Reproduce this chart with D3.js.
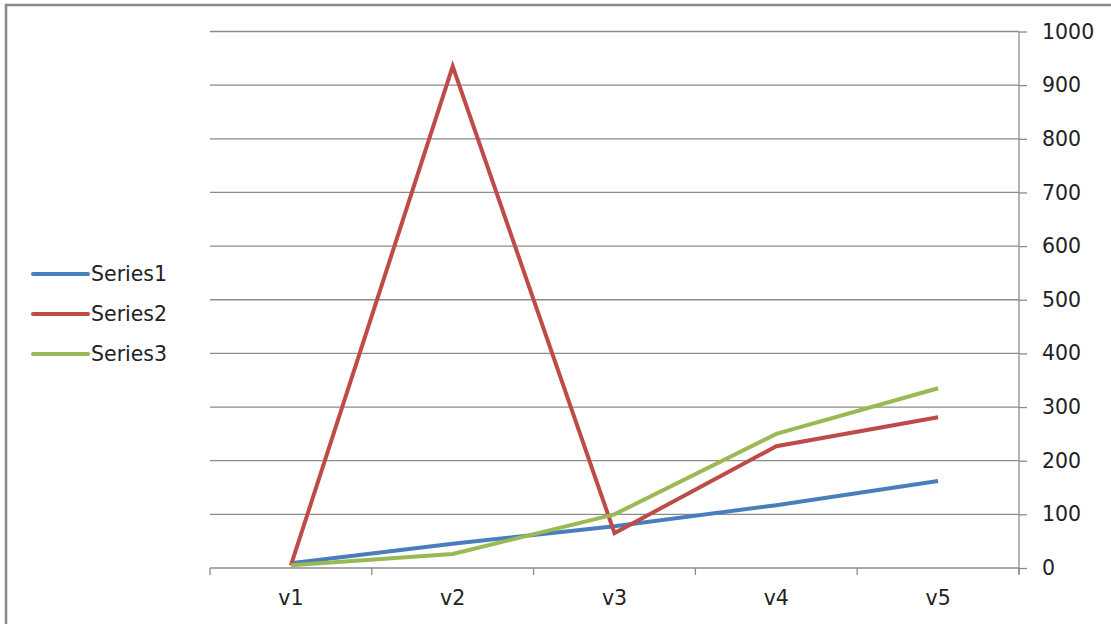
<!DOCTYPE html>
<html><head><meta charset="utf-8">
<script src="https://cdn.jsdelivr.net/npm/d3@7"></script>
<style>body{margin:0;background:#fff}svg{display:block}</style>
</head><body>
<script>
const categories = ["v1","v2","v3","v4","v5"];
const series1 = [9, 45, 78, 117, 162];
const series2 = [5, 935, 65, 227, 281];
const series3 = [5, 26, 100, 250, 335];
const seriesNames = ["Series1","Series2","Series3"];
const colors = ["#4a7ebb","#be4b48","#98b954"];
const yTicks = [0,100,200,300,400,500,600,700,800,900,1000];

const W=1111,H=624;
const svg=d3.select("body").append("svg").attr("width",W).attr("height",H);
const font="'DejaVu Sans', sans-serif";
const fs=20.5;

// frame
svg.append("path").attr("d","M6,624 V5 H1111").attr("fill","none").attr("stroke","#888").attr("stroke-width",2.5);

const L=210,R=1019,T=31.5,B=568;
const x=d3.scaleBand().domain(categories).range([L,R]);
const y=d3.scaleLinear().domain([0,1000]).range([B,T]);

// gridlines
svg.append("g").selectAll("line").data(yTicks.filter(d=>d>0)).join("line")
 .attr("x1",L).attr("x2",R).attr("y1",d=>y(d)).attr("y2",d=>y(d))
 .attr("stroke","#8c8c8c").attr("stroke-width",1.3);

// right axis
const ya=svg.append("g").attr("transform",`translate(${R},0)`)
 .call(d3.axisRight(y).tickValues(yTicks).tickSize(8).tickPadding(15).tickFormat(d3.format("d")));
ya.select(".domain").attr("stroke","#8c8c8c").attr("stroke-width",1.3).attr("d",`M0,${T}V${B+6}`);
ya.selectAll(".tick line").attr("stroke","#8c8c8c").attr("stroke-width",1.3);
ya.selectAll("text").attr("font-family",font).attr("font-size",fs).attr("fill","#222");

// bottom axis
const xa=svg.append("g").attr("transform",`translate(0,${B})`)
 .call(d3.axisBottom(x).tickSize(0).tickPadding(22));
xa.select(".domain").attr("stroke","#8c8c8c").attr("stroke-width",1.3).attr("d",`M${L},0H${R}`);
xa.selectAll("text").attr("font-family",font).attr("font-size",fs).attr("fill","#222");
const bounds=[...categories.map(c=>x(c)), R];
svg.append("g").selectAll("line").data(bounds).join("line")
 .attr("x1",d=>d).attr("x2",d=>d).attr("y1",B).attr("y2",B+7)
 .attr("stroke","#8c8c8c").attr("stroke-width",1.3);

// lines
const data=[series1,series2,series3];
const line=d3.line().x((d,i)=>x(categories[i])+x.bandwidth()/2).y(d=>y(d));
data.forEach((s,k)=>{
 svg.append("path").datum(s).attr("d",line).attr("fill","none")
  .attr("stroke",colors[k]).attr("stroke-width",4).attr("stroke-linejoin","miter");
});

// legend
seriesNames.forEach((n,k)=>{
 const yy=274+k*40;
 svg.append("line").attr("x1",33).attr("x2",88).attr("y1",yy).attr("y2",yy)
  .attr("stroke",colors[k]).attr("stroke-width",4).attr("stroke-linecap","round");
 svg.append("text").attr("x",91).attr("y",yy+7).text(n)
  .attr("font-family",font).attr("font-size",fs).attr("fill","#222");
});
</script>
</body></html>
